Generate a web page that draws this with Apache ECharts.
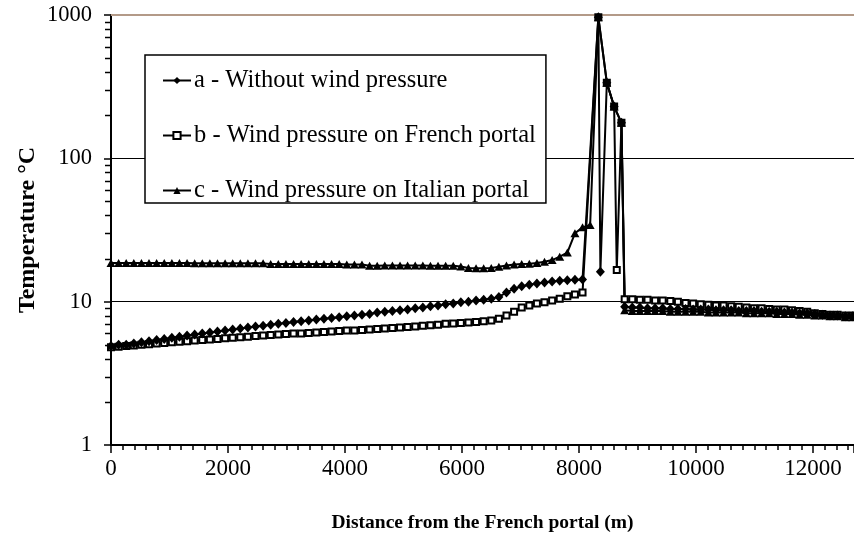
<!DOCTYPE html>
<html>
<head>
<meta charset="utf-8">
<script src="https://cdn.jsdelivr.net/npm/echarts@6/dist/echarts.min.js"></script>
<style>
  html, body { margin: 0; padding: 0; background: #fff; }
  #chart { width: 854px; height: 535px; }
</style>
</head>
<body>
<div id="chart"></div>
<script>
// Distances (m) of the cells between the French portal and the fire zone
const nearDistance = [0, 130, 260, 390, 520, 650, 780, 910, 1040, 1170, 1300, 1430, 1560, 1690, 1820, 1950,
  2080, 2210, 2340, 2470, 2600, 2730, 2860, 2990, 3120, 3250, 3380, 3510, 3640, 3770, 3900, 4030,
  4160, 4290, 4420, 4550, 4680, 4810, 4940, 5070, 5200, 5330, 5460, 5590, 5720, 5850, 5980, 6110,
  6240, 6370, 6500, 6630, 6760, 6890, 7020, 7150, 7280, 7410, 7540, 7670, 7800, 7930, 8060, 8190];

// Distances (m) of the cells downstream of the fire, up to the Italian side
const tailDistance = [8780, 8910, 9040, 9170, 9300, 9430, 9560, 9690, 9820, 9950, 10080, 10210, 10340,
  10470, 10600, 10730, 10860, 10990, 11120, 11250, 11380, 11510, 11640, 11770, 11900, 12030, 12160,
  12290, 12420, 12550, 12680];

const seriesNames = ['a - Without wind pressure', 'b - Wind pressure on French portal', 'c - Wind pressure on Italian portal'];

// a - Without wind pressure (°C)
const nearTempA = [4.9, 5.0, 5.0, 5.1, 5.2, 5.3, 5.4, 5.5, 5.6, 5.7, 5.8, 5.9, 6.0, 6.1, 6.2, 6.3,
  6.4, 6.5, 6.6, 6.7, 6.8, 6.9, 7.0, 7.1, 7.2, 7.3, 7.4, 7.5, 7.6, 7.7, 7.8, 7.9,
  8.0, 8.1, 8.2, 8.4, 8.5, 8.6, 8.7, 8.8, 9.0, 9.1, 9.3, 9.4, 9.6, 9.7, 9.9, 10.0,
  10.2, 10.3, 10.5, 10.8, 11.6, 12.3, 12.8, 13.1, 13.4, 13.6, 13.8, 14.0, 14.1, 14.2, 14.3];
const fireDistA = [8330, 8365, 8475, 8600, 8725];
const fireTempA = [966, 16.2, 337, 230, 177];
const tailTempA = [9.2, 9.1, 9.1, 9.0, 9.0, 9.0, 8.9, 8.9, 8.9, 8.8, 8.8, 8.8, 8.7, 8.7, 8.7, 8.6,
  8.6, 8.6, 8.5, 8.5, 8.5, 8.4, 8.4, 8.3, 8.3, 8.2, 8.1, 8.0, 8.0, 7.9, 7.9];

// b - Wind pressure on French portal (°C)
const nearTempB = [4.8, 4.85, 4.9, 4.95, 5.0, 5.05, 5.1, 5.15, 5.2, 5.25, 5.3, 5.35, 5.4, 5.45, 5.5, 5.55,
  5.6, 5.65, 5.7, 5.75, 5.8, 5.85, 5.9, 5.95, 6.0, 6.0, 6.05, 6.1, 6.15, 6.2, 6.25, 6.3,
  6.3, 6.35, 6.4, 6.45, 6.5, 6.55, 6.6, 6.65, 6.7, 6.8, 6.85, 6.9, 7.0, 7.05, 7.1, 7.15,
  7.2, 7.3, 7.4, 7.6, 8.0, 8.5, 9.1, 9.4, 9.7, 9.9, 10.2, 10.5, 10.9, 11.2, 11.6];
const fireDistB = [8330, 8475, 8600, 8645, 8725];
const fireTempB = [966, 337, 230, 16.6, 177];
const tailTempB = [10.4, 10.4, 10.3, 10.3, 10.2, 10.2, 10.1, 10.0, 9.8, 9.7, 9.6, 9.5, 9.4, 9.4, 9.3, 9.2,
  9.1, 9.0, 9.0, 8.9, 8.8, 8.8, 8.7, 8.6, 8.5, 8.3, 8.2, 8.1, 8.1, 8.0, 8.0];

// c - Wind pressure on Italian portal (°C)
const nearTempC = [18.6, 18.6, 18.6, 18.6, 18.6, 18.6, 18.6, 18.6, 18.6, 18.6, 18.6, 18.5, 18.5, 18.5, 18.5, 18.5,
  18.5, 18.5, 18.5, 18.5, 18.5, 18.3, 18.3, 18.3, 18.3, 18.3, 18.3, 18.3, 18.3, 18.3, 18.3, 18.2,
  18.2, 18.2, 17.8, 17.8, 17.9, 17.9, 17.9, 17.9, 17.9, 17.9, 17.8, 17.8, 17.8, 17.8, 17.6, 17.2,
  17.1, 17.1, 17.2, 17.5, 17.9, 18.2, 18.3, 18.4, 18.6, 19.0, 19.5, 20.6, 22.0, 30.0, 33.0, 34.3];
const fireDistC = [8330, 8475, 8600, 8725];
const fireTempC = [966, 337, 230, 177];
const tailTempC = [8.7, 8.6, 8.6, 8.6, 8.6, 8.6, 8.5, 8.5, 8.5, 8.5, 8.5, 8.4, 8.4, 8.4, 8.4, 8.4,
  8.3, 8.3, 8.3, 8.3, 8.2, 8.2, 8.2, 8.1, 8.1, 8.0, 8.0, 7.9, 7.9, 7.8, 7.8];

// Axis tick values
const xTickLabels = [0, 2000, 4000, 6000, 8000, 10000, 12000];
const yMinorTicks = [2, 3, 4, 5, 6, 7, 8, 9, 20, 30, 40, 50, 60, 70, 80, 90, 200, 300, 400, 500, 600, 700, 800, 900];

function profile(nearTemp, fireDist, fireTemp, tailTemp) {
  const pts = nearTemp.map((t, i) => [nearDistance[i], t]);
  fireDist.forEach((d, i) => pts.push([d, fireTemp[i]]));
  tailTemp.forEach((t, i) => pts.push([tailDistance[i], t]));
  return pts;
}

const serif = 'Liberation Serif';
const black = '#000';

const chart = echarts.init(document.getElementById('chart'), null, { renderer: 'canvas' });

const baseLine = { width: 2, color: black };

chart.setOption({
  animation: false,
  backgroundColor: '#fff',
  textStyle: { fontFamily: serif, color: black },
  grid: { left: 111, right: 0, top: 15, bottom: 90, containLabel: false, outerBoundsMode: 'none' },
  legend: {
    data: seriesNames,
    orient: 'vertical',
    left: 145,
    top: 55,
    backgroundColor: '#fff',
    borderColor: black,
    borderWidth: 1.5,
    borderRadius: 0,
    padding: [13, 10, 0, 17],
    itemGap: 30,
    itemWidth: 28,
    itemHeight: 9,
    textStyle: { fontFamily: serif, fontSize: 24.5, color: black, padding: [0, 0, 0, -2] },
    z: 10
  },
  xAxis: [
    {
      type: 'value', min: 0, max: 12700, interval: 2000, position: 'bottom',
      axisLine: { show: true, onZero: false, lineStyle: { color: black, width: 2 } },
      axisTick: { show: true, inside: false, length: 8, lineStyle: { color: black, width: 1.5 } },
      axisLabel: {
        formatter: v => (xTickLabels.indexOf(v) >= 0 ? String(v) : ''),
        fontFamily: serif, fontSize: 23, color: black, margin: 12
      },
      splitLine: { show: false },
      name: 'Distance from the French portal (m)',
      nameLocation: 'middle',
      nameGap: 68,
      nameMoveOverlap: false,
      nameTextStyle: { fontFamily: serif, fontWeight: 'bold', fontSize: 19.5, color: black }
    },
    {
      type: 'value', min: 0, max: 12700, interval: 200, position: 'bottom',
      axisLine: { show: false, onZero: false },
      axisTick: { show: true, inside: false, length: 5, lineStyle: { color: black, width: 1.5 } },
      axisLabel: { show: false },
      splitLine: { show: false }
    },
    {
      type: 'value', min: 0, max: 12700, position: 'top',
      axisLine: { show: true, onZero: false, lineStyle: { color: '#b39a88', width: 2 } },
      axisTick: { show: false },
      axisLabel: { show: false },
      splitLine: { show: false }
    }
  ],
  yAxis: {
    type: 'log', logBase: 10, min: 1, max: 1000, splitNumber: 3,
    axisLine: { show: true, onZero: false, lineStyle: { color: black, width: 2 } },
    axisTick: { show: true, inside: false, length: 7, lineStyle: { color: black, width: 1.5 } },
    axisLabel: { formatter: v => String(v), fontFamily: serif, fontSize: 22.5, color: black, margin: 19 },
    splitLine: { show: true, showMinLine: false, showMaxLine: false, lineStyle: { color: black, width: 1 } },
    name: 'Temperature °C',
    nameLocation: 'middle',
    nameGap: 71,
    nameMoveOverlap: false,
    nameTextStyle: { fontFamily: serif, fontWeight: 'bold', fontSize: 24, color: black }
  },
  series: [
    {
      name: seriesNames[2], type: 'line', xAxisIndex: 0,
      data: profile(nearTempC, fireDistC, fireTempC, tailTempC),
      symbol: 'triangle', symbolSize: [9, 8],
      lineStyle: baseLine, itemStyle: { color: black }
    },
    {
      name: seriesNames[1], type: 'line', xAxisIndex: 0,
      data: profile(nearTempB, fireDistB, fireTempB, tailTempB),
      symbol: 'rect', symbolSize: 6,
      lineStyle: baseLine, itemStyle: { color: '#fff', borderColor: black, borderWidth: 2 }
    },
    {
      name: seriesNames[0], type: 'line', xAxisIndex: 0,
      data: profile(nearTempA, fireDistA, fireTempA, tailTempA),
      symbol: 'diamond', symbolSize: [9, 10],
      lineStyle: baseLine, itemStyle: { color: black }
    },
    {
      // short outward minor ticks of the logarithmic temperature axis
      type: 'custom', coordinateSystem: 'cartesian2d', xAxisIndex: 0, yAxisIndex: 0,
      silent: true, clip: false, z: 5,
      data: yMinorTicks.map(v => [0, v]),
      encode: { x: 0, y: 1 },
      renderItem: (params, api) => {
        const p = api.coord([api.value(0), api.value(1)]);
        const y = Math.round(p[1]) + 0.5;
        return {
          type: 'line',
          shape: { x1: p[0] - 6, y1: y, x2: p[0], y2: y },
          style: { stroke: black, lineWidth: 1.5 }
        };
      }
    }
  ]
});
</script>
</body>
</html>
